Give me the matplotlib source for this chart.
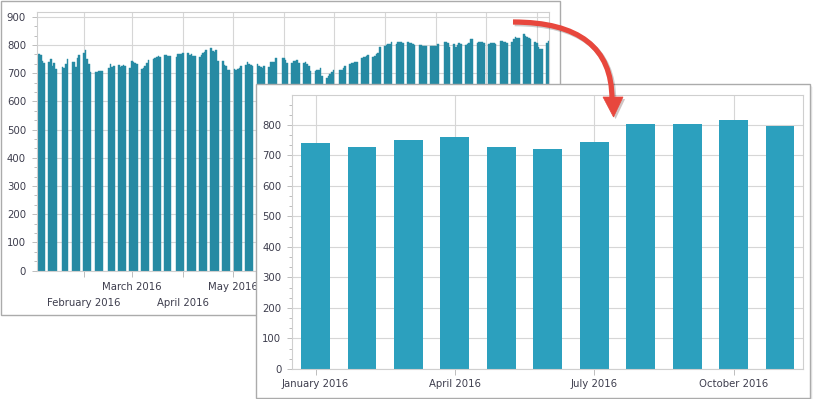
import matplotlib
matplotlib.use('Agg')
import matplotlib.pyplot as plt
import matplotlib.dates as mdates
from matplotlib.patches import Rectangle, PathPatch, Polygon
from matplotlib.path import Path
from matplotlib.ticker import MultipleLocator
import matplotlib.patheffects as pe
import pandas as pd
import datetime as dt

W, H = 815, 399

# ---------------- data ----------------
holidays = ['2016-01-18', '2016-02-15', '2016-03-25', '2016-05-30', '2016-07-04', '2016-09-05']
trading_days = pd.bdate_range('2016-01-04', '2016-11-08').drop(pd.to_datetime(holidays))

daily_values = [
    765, 768, 765, 745, 735,
    739, 749, 726, 735, 714,
    723, 718, 732, 749,
    739, 739, 721, 753, 764,
    773, 782, 752, 733, 706,
    703, 706, 708, 708, 708,
    719, 733, 721, 724,
    730, 723, 727, 729, 727,
    719, 743, 740, 735, 734,
    714, 718, 726, 735, 748,
    751, 753, 758, 761, 759,
    766, 764, 760, 760,
    757, 769, 769, 768, 772,
    770, 764, 768, 762, 762,
    757, 764, 773, 777, 783,
    791, 780, 777, 784, 742,
    744, 729, 724, 710, 710,
    716, 713, 715, 720, 726,
    730, 740, 732, 728, 727,
    734, 725, 721, 720, 724,
    721, 741, 741, 741, 753,
    753, 753, 746, 738,
    735, 745, 745, 746, 738,
    735, 739, 733, 727, 708,
    709, 712, 713, 717, 690,
    684, 690, 698, 706, 712,
    710, 713, 719, 727,
    733, 736, 738, 739, 740,
    753, 757, 759, 760, 764,
    757, 760, 767, 771, 794,
    797, 801, 803, 804, 810,
    805, 809, 812, 811, 808,
    810, 808, 806, 803, 801,
    800, 799, 797, 796, 796,
    797, 797, 798, 798, 803,
    812, 811, 806, 792,
    802, 794, 800, 806, 802,
    801, 804, 808, 820, 820,
    808, 812, 812, 809, 806,
    803, 806, 806, 806, 803,
    815, 814, 809, 809, 806,
    809, 821, 829, 826, 824,
    838, 833, 829, 826, 820,
    812, 808, 792, 786, 786,
    806, 815,
]

# month ticks of the back chart (labels hidden behind the front chart are left blank)
upper_months = ['2016-03-01', '2016-05-01', '2016-07-01', '2016-09-01', '2016-11-01']
upper_labels = ['March 2016', 'May 2016', '', '', '']
lower_months = ['2016-02-01', '2016-04-01', '2016-06-01', '2016-08-01', '2016-10-01']
lower_labels = ['February 2016', 'April 2016', '', '', '']

months = ['January 2016', 'February 2016', 'March 2016', 'April 2016', 'May 2016', 'June 2016',
          'July 2016', 'August 2016', 'September 2016', 'October 2016', 'November 2016']
monthly_values = [741, 728, 751, 761, 728, 722, 744, 802, 802, 816, 797]
front_label_idx = [0, 3, 6, 9]

# ---------------- style ----------------
TXT = '#3d3d4d'
GRID = '#d6d6d6'
FONT = 7.3
plt.rcParams['font.family'] = ['DejaVu Sans']


def ax_rect(l, t, r, b):
    return [l / W, 1 - b / H, (r - l) / W, (b - t) / H]


def P(x, y):
    return (x / W, 1 - y / H)


fig = plt.figure(figsize=(W / 100, H / 100), dpi=100)
fig.patch.set_facecolor('white')

# back frame
fig.add_artist(Rectangle(P(0.5, 314.5), 559 / W, 314 / H, transform=fig.transFigure,
                         facecolor='white', edgecolor='#ababab', lw=1.0, zorder=-1))

# ---------------- back chart ----------------
BACK = '#268aa3'
axb = fig.add_axes(ax_rect(37, 12.3, 548.7, 270.7), zorder=0)
axb.bar(mdates.date2num(trading_days), daily_values, width=1.0, color=BACK,
        edgecolor=BACK, lw=0.3)
axb.set_ylim(0, 916)
axb.set_xlim(mdates.date2num(dt.date(2016, 1, 4)) - 0.4, mdates.date2num(dt.date(2016, 11, 8)) + 0.1)
axb.set_yticks(range(0, 901, 100))
axb.yaxis.set_minor_locator(MultipleLocator(100 / 3))
axb.set_xticks(mdates.date2num(pd.to_datetime(upper_months)), upper_labels)
axb.set_xticks(mdates.date2num(pd.to_datetime(lower_months)), lower_labels, minor=True)
axb.set_axisbelow(True)
axb.grid(True, axis='y', which='major', color=GRID, lw=0.8)
axb.grid(True, axis='x', which='both', color=GRID, lw=0.8)
axb.tick_params(axis='y', which='major', length=3.6, width=0.7, color='#bdbdbd', pad=4.3,
                labelsize=FONT, labelcolor=TXT)
axb.tick_params(axis='y', which='minor', length=2.2, width=0.7, color='#bdbdbd')
axb.tick_params(axis='x', which='major', length=4, width=0.7, color='#bdbdbd', pad=4.0,
                labelsize=FONT, labelcolor=TXT)
axb.tick_params(axis='x', which='minor', length=4, width=0.7, color='#bdbdbd', pad=15.5,
                labelsize=FONT, labelcolor=TXT)
for s in axb.spines.values():
    s.set_color('#cfcfcf')
    s.set_linewidth(0.8)

# ---------------- front frame ----------------
for i, a in enumerate([0.10, 0.06, 0.03]):
    o = i + 1
    fig.add_artist(Rectangle(P(256 + o, 398 + o), 554 / W, 314 / H, transform=fig.transFigure,
                             facecolor='#000000', alpha=a, lw=0, zorder=1))
fig.add_artist(Rectangle(P(256, 398), 554 / W, 314 / H, transform=fig.transFigure,
                         facecolor='white', edgecolor='#ababab', lw=1.0, zorder=1.1))

# ---------------- front chart ----------------
axf = fig.add_axes(ax_rect(292.3, 95, 803.3, 369), zorder=2)
xs = list(range(len(months)))
axf.bar(xs, monthly_values, width=0.62, color='#2ca0be', lw=0)
axf.set_xlim(-0.5, 10.5)
axf.set_ylim(0, 898)
axf.set_yticks(range(0, 801, 100))
axf.yaxis.set_minor_locator(MultipleLocator(100 / 3))
axf.set_xticks(front_label_idx, [months[i] for i in front_label_idx])
axf.set_axisbelow(True)
axf.grid(True, axis='both', which='major', color=GRID, lw=0.8)
axf.tick_params(axis='y', which='major', length=3.6, width=0.7, color='#bdbdbd', pad=4.3,
                labelsize=FONT, labelcolor=TXT)
axf.tick_params(axis='y', which='minor', length=2.2, width=0.7, color='#bdbdbd')
axf.tick_params(axis='x', which='major', length=4.3, width=0.7, color='#bdbdbd', pad=3.2,
                labelsize=FONT, labelcolor=TXT)
for s in axf.spines.values():
    s.set_color('#cfcfcf')
    s.set_linewidth(0.8)

# ---------------- arrow ----------------
RED = '#e8473d'
verts = [P(513, 22), P(612, 22), P(612, 99)]
shaft = PathPatch(Path(verts, [Path.MOVETO, Path.CURVE3, Path.CURVE3]), transform=fig.transFigure,
                  fill=False, edgecolor=RED, lw=3.8, capstyle='butt', zorder=3)
shaft.set_path_effects([pe.SimpleLineShadow(offset=(1.2, -1.2), alpha=0.2), pe.Normal()])
fig.add_artist(shaft)
head = Polygon([P(603, 97), P(623, 97), P(613.5, 117)], closed=True, transform=fig.transFigure,
               facecolor=RED, edgecolor=RED, lw=0.5, zorder=3.1)
head.set_path_effects([pe.SimplePatchShadow(offset=(1.5, -1.5), alpha=0.25), pe.Normal()])
fig.add_artist(head)

fig.savefig('out.png', dpi=100)
